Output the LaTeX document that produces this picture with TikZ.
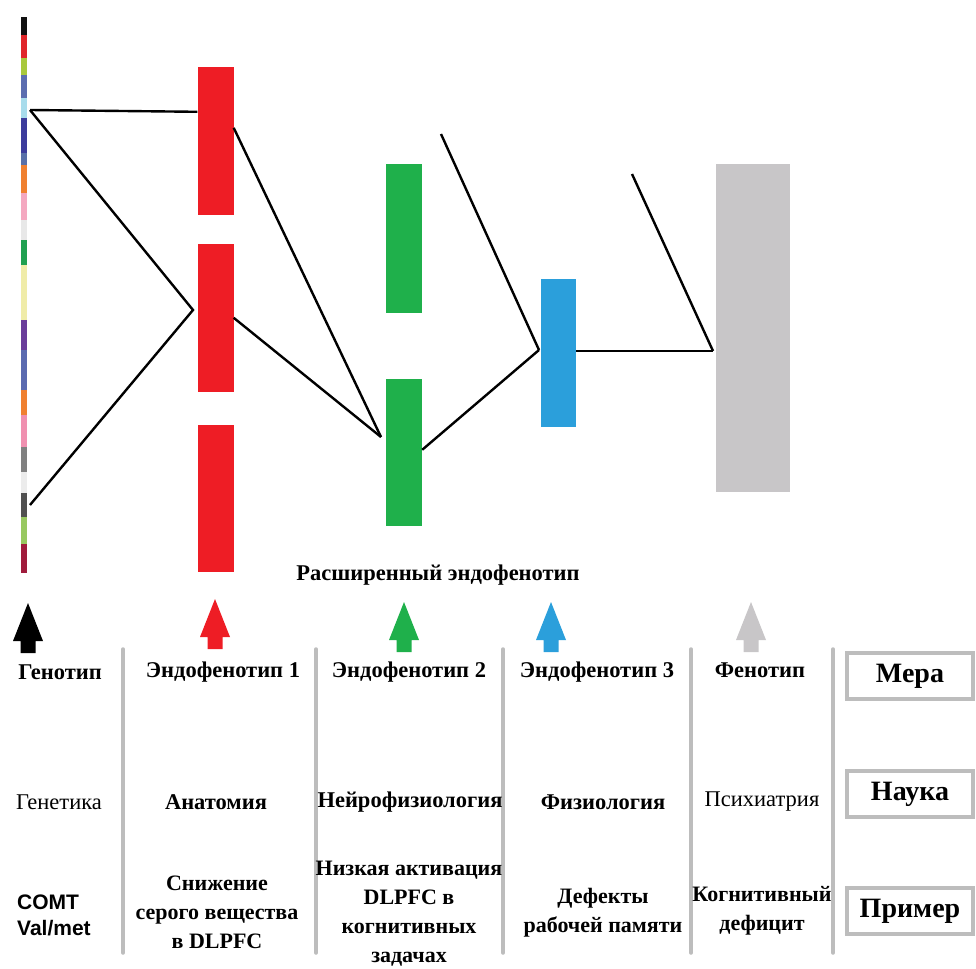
\documentclass[tikz,border=0pt]{standalone}
\usepackage{fontspec}
\setmainfont{Liberation Serif}
\setsansfont{Liberation Sans}
\usetikzlibrary{calc}
\definecolor{cRed}{HTML}{EE1D25}
\definecolor{cGreen}{HTML}{1FB04B}
\definecolor{cBlue}{HTML}{2B9FDB}
\definecolor{cGrey}{HTML}{C8C6C8}
\definecolor{cSep}{HTML}{BDBDBD}
\begin{document}
\begin{tikzpicture}[x=1pt,y=-1pt,
  bar/.style={draw=none,inner sep=0pt,minimum width=#1},
  link/.style={line width=2.4pt,black},
  sep/.style={line width=3.5pt,cSep,line cap=round},
  hd/.style={font=\fontsize{22.5}{26}\selectfont\bfseries,inner sep=0pt},
  sci/.style={font=\fontsize{22.5}{26}\selectfont,inner sep=0pt},
  scib/.style={font=\fontsize{22.5}{26}\selectfont\bfseries,inner sep=0pt},
  ex/.style={font=\fontsize{22}{29}\selectfont\bfseries,align=center,inner sep=0pt},
  labbox/.style={draw=cSep,line width=3.5pt,minimum width=126pt,minimum height=46pt,
    font=\fontsize{28}{32}\selectfont\bfseries,inner sep=0pt},
  uparrow/.pic={\fill[pic actions] (-7.5,50) -- (-7.5,38) -- (-15,38) -- (0,0) -- (15,38) -- (7.5,38) -- (7.5,50) -- cycle;}
]
\useasboundingbox (0,0) rectangle (976,968);
% colour bar (genotype)
\foreach \a/\b/\c in {17/35/111111, 35/58/E0262A, 58/75/A8C83C, 75/98/5B6DB0, 98/118/A8DCEC,
  118/153/3C3C9C, 153/165/5870A8, 165/193/F08030, 193/220/F4A8C0, 220/240/E8E8E8,
  240/265/20A050, 265/320/F0ECA8, 320/350/6A3D9A, 350/390/5A6AB0, 390/415/F08030,
  415/447/F090B0, 447/472/808080, 472/493/ECECEC, 493/517/505050, 517/544/98C860, 544/573/A01C3C}
  {\definecolor{tmpc}{HTML}{\c}\fill[tmpc] (21,\a) rectangle (27,\b);}
% bars
\node[bar=36pt,minimum height=148pt,fill=cRed] (r1) at (215.5,141) {};
\node[bar=36pt,minimum height=148pt,fill=cRed] (r2) at (215.5,318) {};
\node[bar=36pt,minimum height=147pt,fill=cRed] (r3) at (215.5,498.5) {};
\node[bar=36pt,minimum height=149pt,fill=cGreen] (g1) at (404,238.5) {};
\node[bar=36pt,minimum height=147pt,fill=cGreen] (g2) at (404,452.5) {};
\node[bar=35pt,minimum height=148pt,fill=cBlue] (b1) at (558.5,353) {};
\node[bar=74pt,minimum height=328pt,fill=cGrey] (p1) at (753,328) {};
% junction points
\coordinate (ga) at (30,110);
\coordinate (gb) at (30,505);
\coordinate (jr) at (193,310);
\coordinate (jg) at (381,437);
\coordinate (jb) at (539,350);
\coordinate (jp) at (713,351);
\coordinate (fa) at (441,134);
\coordinate (fb) at (632,174);
\draw[link] (ga) -- ($(r1.north west)+(0,45)$);
\draw[link] (ga) -- (jr) -- (gb);
\draw[link] ($(r1.north east)+(0,61)$) -- (jg);
\draw[link] ($(r2.north east)+(0,74)$) -- (jg);
\draw[link] ($(g2.north east)+(0,71)$) -- (jb);
\draw[link] (fa) -- (jb);
\draw[link] (b1.east |- jp) -- (jp);
\draw[link] (fb) -- (jp);
% extended endophenotype label
\node[hd] (ext) at (438,575) {Расширенный эндофенотип};
% arrows
\pic[fill=black] at (28,603) {uparrow};
\pic[fill=cRed] at (215,599) {uparrow};
\pic[fill=cGreen] at (404,602) {uparrow};
\pic[fill=cBlue] at (551,602) {uparrow};
\pic[fill=cGrey] at (751,602) {uparrow};
% separators
\foreach \x in {123,316,503,691,833} \draw[sep] (\x,649) -- (\x,953);
% header row
\node[hd] (h0) at (60,672) {Генотип};
\node[hd] (h1) at (223,672) {Эндофенотип 1};
\node[hd] (h2) at (409,672) {Эндофенотип 2};
\node[hd] (h3) at (597,672) {Эндофенотип 3};
\node[hd] (h4) at (760,670) {Фенотип};
% science row
\node[sci] (s0) at (59,802) {Генетика};
\node[scib] (s1) at (216,802) {Анатомия};
\node[scib] (s2) at (410,802) {Нейрофизиология};
\node[scib] (s3) at (603,802) {Физиология};
\node[sci] (s4) at (762,802) {Психиатрия};
% example row
\node[font=\fontsize{21}{26}\selectfont\sffamily\bfseries,align=left,inner sep=0pt,anchor=west] (e0) at (17,915) {COMT\\Val/met};
\node[ex] (e1) at (217,912) {Снижение\\серого вещества\\в DLPFC};
\node[ex] (e2) at (409,914) {Низкая активация\\DLPFC в\\когнитивных\\задачах};
\node[ex] (e3) at (603,913) {Дефекты\\рабочей памяти};
\node[ex] (e4) at (762,911) {Когнитивный\\дефицит};
% right labels
\node[labbox] (m1) at (910,676) {Мера};
\node[labbox] (m2) at (910,794) {Наука};
\node[labbox] (m3) at (910,911) {Пример};
\end{tikzpicture}
\end{document}
